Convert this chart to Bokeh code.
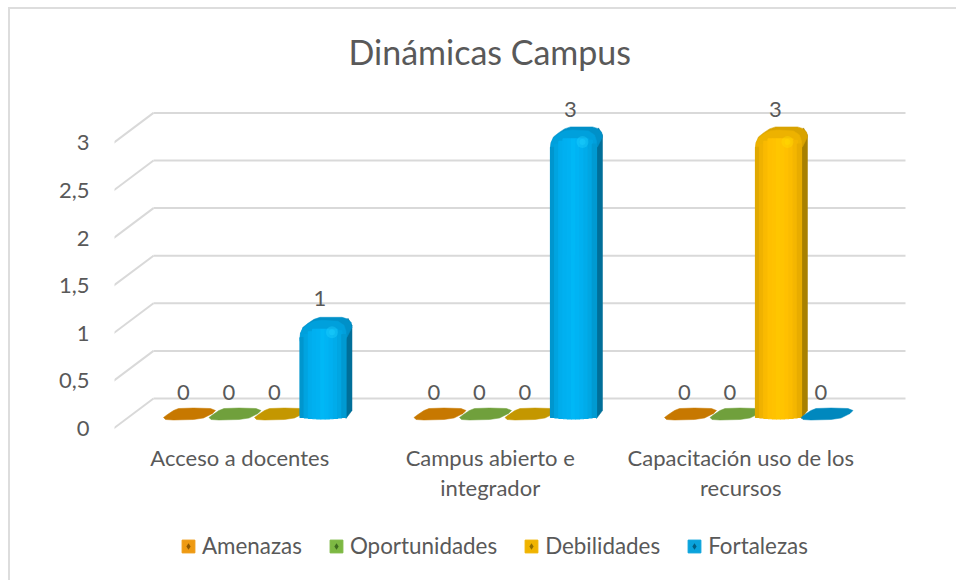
from bokeh.plotting import figure
from bokeh.embed import file_html
from bokeh.resources import INLINE
from bokeh.models import Range1d, FixedTicker, Legend, LegendItem
from bokeh.core.properties import value as fv

# ---- data ----
title_text = "Dinámicas Campus"
categories = ["Acceso a docentes", "Campus abierto e\nintegrador", "Capacitación uso de los\nrecursos"]
series_names = ["Amenazas", "Oportunidades", "Debilidades", "Fortalezas"]
amenazas = [0, 0, 0]
oportunidades = [0, 0, 0]
debilidades = [0, 0, 3]
fortalezas = [1, 3, 0]
y_ticks = [0, 0.5, 1, 1.5, 2, 2.5, 3]
y_labels = ["0", "0,5", "1", "1,5", "2", "2,5", "3"]
series_values = [amenazas, oportunidades, debilidades, fortalezas]

# ---- styles ----
FONT = "Lato"
TXT = "#595959"
GRID = "#D9D9D9"
disc_col = ["#C77800", "#70A03C", "#C49700", "#0088BE"]
legend_col = ["#EE9A12", "#7DB843", "#F0B400", "#0AA3DC"]
legend_dark = ["#8F5800", "#3F6C20", "#8F6E00", "#005F85"]
front_ramps = {
    2: ["#E0A800", "#F0B200", "#FABA00", "#FFC000", "#FFC200", "#FFC600", "#FFC400", "#FFC000", "#FBBC00", "#F4B600", "#E8AC00"],
    3: ["#0096CE", "#00A4E0", "#00ADEC", "#00B0F0", "#00B2F2", "#00B8F6", "#00B4F4", "#00B0F0", "#00ACEA", "#00A6E2", "#009AD2"],
}
side_col = {2: "#A88000", 3: "#006F99"}
cap_col = {2: "#D9A300", 3: "#0090C8"}
cap2_col = {2: "#EDB200", 3: "#00A0DC"}
hi_col = {2: "#FFE000", 3: "#22D4FF"}

# ---- scale of the plot, in page pixels ----
OX, OY = 10, 9                       # page pixel of the figure's corner
FL, FR, FT, FB = 114, 915, 90, 575   # frame
AXIS_PX = 432                        # where the category axis sits
Y0 = 428                             # pixel of value 0 on the front plane
SX = 250.5                           # px per category
SY = 95.2                            # px per unit
DX, DY = 39, 30                      # depth of the floor
BASE_PX = 418                        # base of the bars
BAR_STEP = 45.5
GROUP_LEFT = 49                      # category start -> first bar left edge

X = lambda px: (px - FL) / SX
Y = lambda py: (Y0 - py) / SY

p = figure(width=948, height=573, output_backend="svg", toolbar_location=None,
           x_range=Range1d(X(FL), X(FR)), y_range=Range1d(Y(FB), Y(FT)),
           min_border_left=FL - OX, min_border_right=OX + 948 - FR,
           min_border_top=FT - OY, min_border_bottom=OY + 573 - FB)
p.outline_line_color = None
p.grid.visible = False
p.styles = {"border-top": "2px solid #DDDDDD", "border-left": "2px solid #DDDDDD",
            "margin-left": "8px", "margin-top": "7px"}

# title
p.title.text = title_text
p.title.text_font = FONT
p.title.text_font_size = "34px"
p.title.text_font_style = "normal"
p.title.text_color = TXT
p.title.align = "left"
p.title.offset = 348 - FL
p.title.standoff = 38

# axes
ya = p.yaxis[0]
ya.ticker = FixedTicker(ticks=y_ticks)
ya.major_label_overrides = {t: l for t, l in zip(y_ticks, y_labels)}
ya.axis_line_color = None
ya.major_tick_line_color = None
ya.minor_tick_line_color = None
ya.major_label_text_font = FONT
ya.major_label_text_font_size = "22px"
ya.major_label_text_color = TXT
ya.major_label_standoff = 19

xa = p.xaxis[0]
cat_pos = [i + 0.5 for i in range(len(categories))]
xa.ticker = FixedTicker(ticks=cat_pos)
xa.major_label_overrides = {t: l for t, l in zip(cat_pos, categories)}
xa.axis_line_color = None
xa.major_tick_line_color = None
xa.minor_tick_line_color = None
xa.major_label_text_font = FONT
xa.major_label_text_font_size = "22px"
xa.major_label_text_color = TXT
xa.major_label_text_line_height = 1.14
xa.major_label_standoff = 5
xa.major_label_orientation = "horizontal"
xa.fixed_location = Y(AXIS_PX)

# walls
x_back = [X(FL + DX)] * len(y_ticks)
x_back_end = [X(905)] * len(y_ticks)
y_back = [t + DY / SY for t in y_ticks]
p.segment(x_back, y_back, x_back_end, y_back, line_color=GRID, line_width=2)
p.segment([X(FL - 1)] * len(y_ticks), y_ticks, x_back, y_back, line_color=GRID, line_width=2)

# bars
def bar_left(i, j):
    return FL + i * SX + GROUP_LEFT + j * BAR_STEP

def draw_disc(x0, col):
    pts = [(0, 9), (4, 6), (10, 2), (15, 0), (30, -0.5), (47, 0), (52, 2), (49, 5), (40, 9.5), (30, 11), (10, 11.5), (2, 11)]
    p.patch([X(x0 + a) for a, b in pts], [Y(408 + b) for a, b in pts],
            fill_color=col, line_color=col, line_width=0.5)

def draw_bar(x0, v, j):
    T = BASE_PX - v * SY
    W, SW = 46, 6
    side = [(W - 4, T + 4), (W + 2, T - 5), (W + SW, T + 2), (W + SW, BASE_PX - 8), (W, BASE_PX)]
    p.patch([X(x0 + a) for a, b in side], [Y(b) for a, b in side],
            fill_color=side_col[j], line_color=side_col[j], line_width=0.5)
    cap = [(0, T + 16), (0.5, T + 10), (3, T + 4), (8, T), (14, T - 4), (20, T - 6), (42, T - 6), (47, T - 4.5), (51, T - 1), (52, T + 4), (47, T + 14), (0, T + 18)]
    p.patch([X(x0 + a) for a, b in cap], [Y(b) for a, b in cap],
            fill_color=cap_col[j], line_color=cap_col[j], line_width=0.5)
    cap2 = [(0, T + 16), (0.5, T + 10), (3, T + 5), (8, T + 1), (14, T - 2), (22, T - 3), (38, T - 2), (44, T + 2), (46, T + 8), (46, T + 16)]
    p.patch([X(x0 + a) for a, b in cap2], [Y(b) for a, b in cap2],
            fill_color=cap2_col[j], line_color=cap2_col[j], line_width=0.5)
    ramp = front_ramps[j]
    n = len(ramp)
    w = W / n
    lefts, rights, tops, bots = [], [], [], []
    for k in range(n):
        a = k * w
        c = a + w / 2
        shoulder = max(0, 14 - c) * 0.7 + max(0, c - W + 8) * 0.9
        lefts.append(X(x0 + a))
        rights.append(X(x0 + a + w))
        tops.append(Y(T + 6 + shoulder))
        bots.append(Y(BASE_PX + 0.5 - 0.0036 * (c - W / 2) ** 2))
    p.quad(left=lefts, right=rights, top=tops, bottom=bots, fill_color=ramp, line_color=ramp, line_width=1.2)
    p.scatter([X(x0 + 32)] * 2, [Y(T + 9)] * 2, size=[12, 6], marker="circle", fill_color=hi_col[j], line_color=None, fill_alpha=0.35)

lab_x, lab_y, lab_t = [], [], []
for j, vals in enumerate(series_values):
    for i, v in enumerate(vals):
        x0 = bar_left(i, j)
        if v == 0:
            draw_disc(x0, disc_col[j])
        else:
            draw_bar(x0, v, j)
        lab_x.append(X(x0 + 20))
        lab_y.append(Y(392) + v * 0.99)
        lab_t.append(str(v))

p.text(lab_x, lab_y, text=lab_t, text_font=fv(FONT), text_font_size="22px", text_color=TXT,
       text_align="center", text_baseline="middle")

# legend (the swatches carry no data point of their own)
nan = float("nan")
items = []
for j, name in enumerate(series_names):
    r1 = p.quad(left=[nan], right=[nan], top=[nan], bottom=[nan], fill_color=legend_col[j], line_color=legend_col[j])
    r2 = p.scatter(x=[nan], y=[nan], marker="diamond", size=8, fill_color=legend_dark[j], line_color=None)
    items.append(LegendItem(label=name, renderers=[r1, r2]))
leg = Legend(items=items, orientation="horizontal", location=(180 - FL, FB - 559),
             label_text_font=FONT, label_text_font_size="22.4px", label_text_color=TXT,
             glyph_width=16, glyph_height=16, label_standoff=6, spacing=26, padding=0, margin=0,
             border_line_color=None, background_fill_alpha=0)
p.add_layout(leg, "center")

open("out.html", "w").write(file_html(p, INLINE))
